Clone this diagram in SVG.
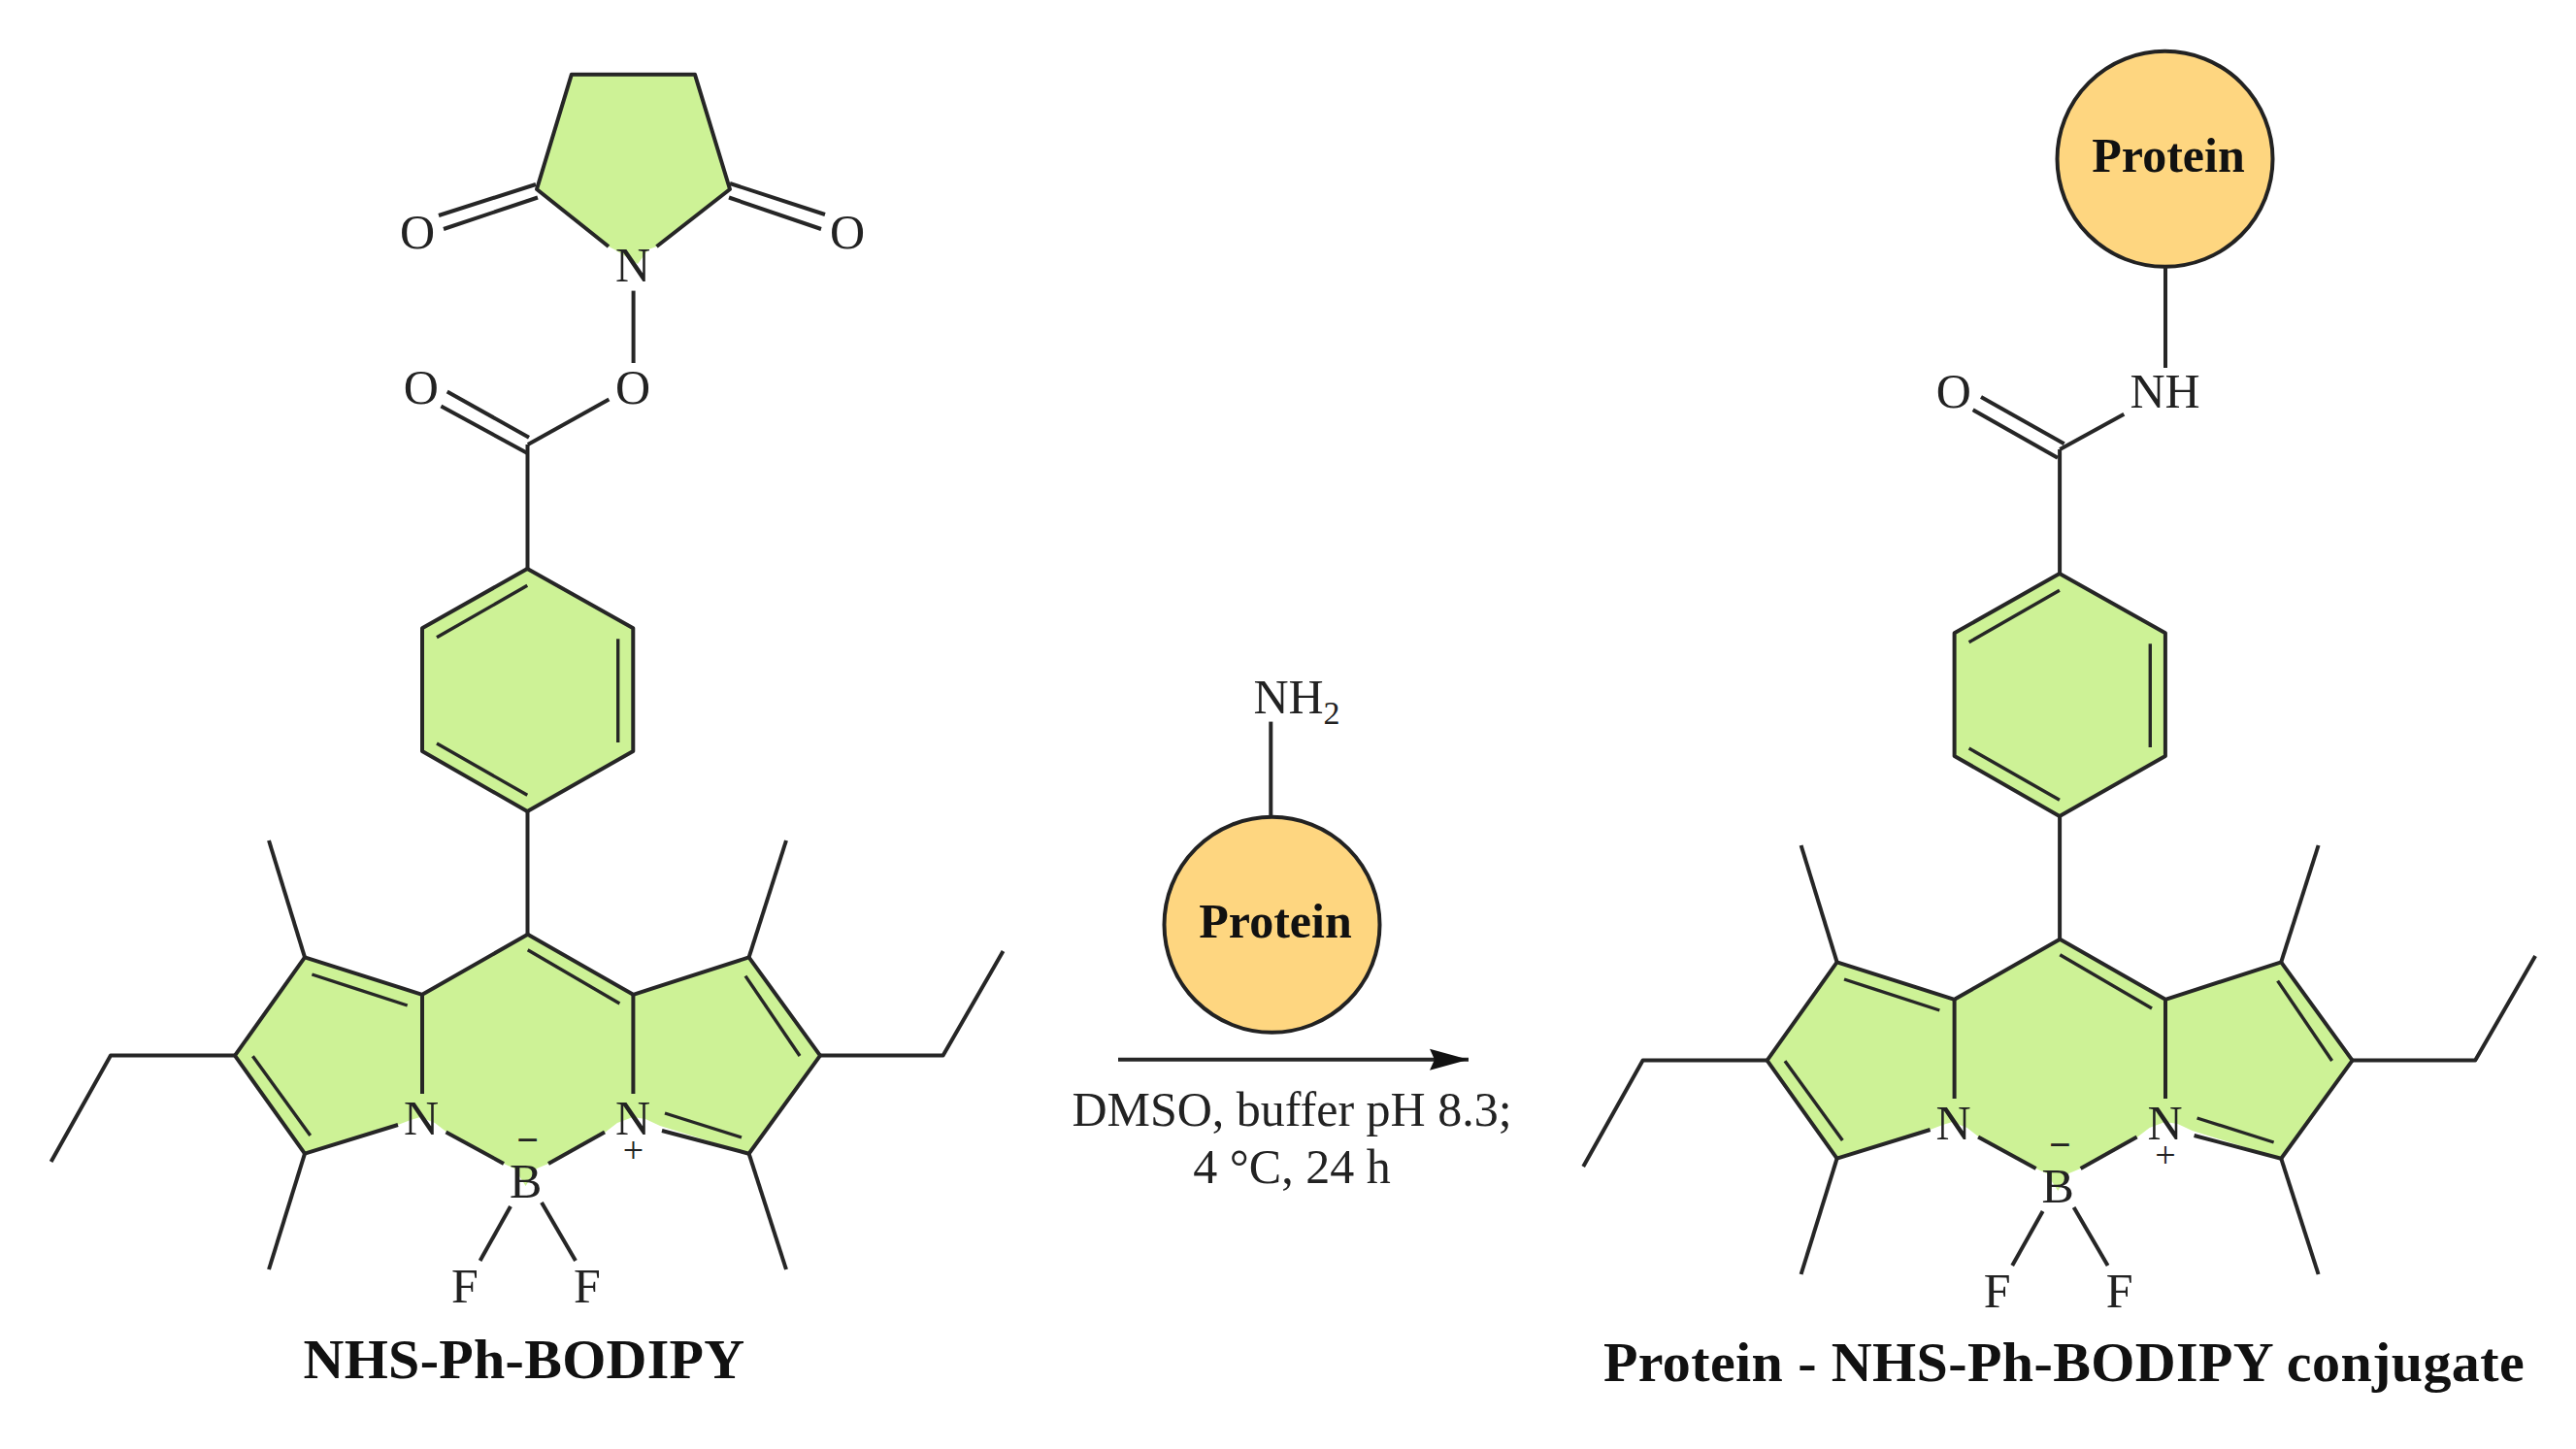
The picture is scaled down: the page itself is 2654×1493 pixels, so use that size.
<svg xmlns="http://www.w3.org/2000/svg" width="2654" height="1493" viewBox="0 0 2654 1493">
<style>
text{font-family:"Liberation Serif","Times New Roman",serif;fill:#222}
.a{font-size:50px;text-anchor:middle}
.c{font-size:38px;text-anchor:middle}
.m{font-size:40px;font-weight:700;text-anchor:middle}
.b{font-size:50px;font-weight:700;text-anchor:middle;fill:#111}
.t{font-size:58px;font-weight:700;text-anchor:middle;fill:#111}
.g{fill:#cdf296;stroke:none}
.o{fill:#fed680;stroke:#222;stroke-width:4}
.l,line,polyline{stroke:#262626;stroke-width:4;fill:none;stroke-linejoin:round}
.th{stroke-width:3.4}
</style>
<defs>
<marker id="head" markerUnits="userSpaceOnUse" markerWidth="44" markerHeight="26" refX="40" refY="12" orient="auto">
<path d="M0 1L40 12L0 23L5 12Z" fill="#111"/>
</marker>
</defs>
<rect width="2654" height="1493" fill="#fff"/>

<g id="succinimide">
<polygon class="g" points="553,195 588.8,77 716,77 752,195 676.5,254 668,257 657,272 633,257 627,254"/>
<polyline points="627,254 553,195 588.8,76.8 716,76.8 752,195 676.5,254"/>
<text class="a" x="652" y="290">N</text>
</g>

<g id="phenyl-left">
<polygon class="g" points="543.3,586 652.3,647.3 652.3,774 543.3,836 435,774 435,647.3"/>
<polygon class="l" points="543.3,586 652.3,647.3 652.3,774 543.3,836 435,774 435,647.3"/>
<line class="th" x1="450" y1="656.7" x2="543.3" y2="603.3"/>
<line class="th" x1="636.7" y1="658.3" x2="636.7" y2="765"/>
<line class="th" x1="450" y1="766" x2="543.3" y2="819.3"/>
</g>

<g id="bodipy-left">
<polygon class="g" points="435,1024.8 314,986.4 242,1087.6 314,1188.7 410,1159 423,1154 433,1151 448,1157 461,1167 519,1199 530,1204 541.6,1222 553,1204 565,1199 623,1167 636,1157 652,1151 665,1153 680,1160 771.6,1188.7 845,1087.6 771.6,986.4 652.4,1024.8 543.7,962.7"/>
<polyline points="410,1159 314,1188.7 242,1087.6 314,986.4 435,1024.8 543.7,962.7 652.4,1024.8 771.6,986.4 845,1087.6 771.6,1188.7 682,1165"/>
<line x1="435" y1="1024.8" x2="435" y2="1127"/>
<line x1="652.4" y1="1024.8" x2="652.4" y2="1127"/>
<line x1="459.5" y1="1166.5" x2="519" y2="1199"/>
<line x1="623" y1="1166.5" x2="565" y2="1199"/>
<line class="th" x1="321.4" y1="1004" x2="419.7" y2="1036"/>
<line class="th" x1="260.4" y1="1088.3" x2="319.7" y2="1170"/>
<line class="th" x1="543.7" y1="978.8" x2="638.4" y2="1034"/>
<line class="th" x1="768" y1="1005.6" x2="824" y2="1088"/>
<line class="th" x1="685" y1="1147" x2="764" y2="1172"/>
<text class="a" x="434" y="1169">N</text>
<text class="a" x="652" y="1169">N</text>
<text class="a" x="541.6" y="1234">B</text>
<text class="m" x="543.7" y="1188">−</text>
<text class="c" x="652.4" y="1198">+</text>
<text class="a" x="479" y="1342">F</text>
<text class="a" x="605" y="1342">F</text>
</g>

<g id="labels-left">
<text class="a" x="430" y="256">O</text>
<text class="a" x="873" y="256">O</text>
<text class="a" x="652" y="416">O</text>
<text class="a" x="433.7" y="416">O</text>
<text class="t" x="540" y="1420" letter-spacing="0.3">NHS-Ph-BODIPY</text>
</g>

<g id="protein-reagent">
<circle class="o" cx="1310.5" cy="952.8" r="111"/>
<text class="b" x="1314" y="966">Protein</text>
<text class="a" x="1336" y="735">NH<tspan font-size="34" dy="11">2</tspan></text>
</g>

<g id="conditions">
<text class="a" x="1331" y="1160">DMSO, buffer pH 8.3;</text>
<text class="a" x="1331" y="1218.5">4 °C, 24 h</text>
</g>

<g id="phenyl-right" transform="translate(1578.6 5)">
<polygon class="g" points="543.3,586 652.3,647.3 652.3,774 543.3,836 435,774 435,647.3"/>
<polygon class="l" points="543.3,586 652.3,647.3 652.3,774 543.3,836 435,774 435,647.3"/>
<line class="th" x1="450" y1="656.7" x2="543.3" y2="603.3"/>
<line class="th" x1="636.7" y1="658.3" x2="636.7" y2="765"/>
<line class="th" x1="450" y1="766" x2="543.3" y2="819.3"/>
</g>

<g id="bodipy-right" transform="translate(1578.6 5)">
<polygon class="g" points="435,1024.8 314,986.4 242,1087.6 314,1188.7 410,1159 423,1154 433,1151 448,1157 461,1167 519,1199 530,1204 541.6,1222 553,1204 565,1199 623,1167 636,1157 652,1151 665,1153 680,1160 771.6,1188.7 845,1087.6 771.6,986.4 652.4,1024.8 543.7,962.7"/>
<polyline points="410,1159 314,1188.7 242,1087.6 314,986.4 435,1024.8 543.7,962.7 652.4,1024.8 771.6,986.4 845,1087.6 771.6,1188.7 682,1165"/>
<line x1="435" y1="1024.8" x2="435" y2="1127"/>
<line x1="652.4" y1="1024.8" x2="652.4" y2="1127"/>
<line x1="459.5" y1="1166.5" x2="519" y2="1199"/>
<line x1="623" y1="1166.5" x2="565" y2="1199"/>
<line class="th" x1="321.4" y1="1004" x2="419.7" y2="1036"/>
<line class="th" x1="260.4" y1="1088.3" x2="319.7" y2="1170"/>
<line class="th" x1="543.7" y1="978.8" x2="638.4" y2="1034"/>
<line class="th" x1="768" y1="1005.6" x2="824" y2="1088"/>
<line class="th" x1="685" y1="1147" x2="764" y2="1172"/>
<text class="a" x="434" y="1169">N</text>
<text class="a" x="652" y="1169">N</text>
<text class="a" x="541.6" y="1234">B</text>
<text class="m" x="543.7" y="1188">−</text>
<text class="c" x="652.4" y="1198">+</text>
<text class="a" x="479" y="1342">F</text>
<text class="a" x="605" y="1342">F</text>
</g>

<g id="protein-conjugated">
<circle class="o" cx="2230.5" cy="163.8" r="111"/>
<text class="b" x="2234" y="177">Protein</text>
<text class="a" x="2230.5" y="420">NH</text>
<text class="a" x="2012.7" y="420">O</text>
<text class="t" x="2126.5" y="1423" letter-spacing="0.4">Protein - NHS-Ph-BODIPY conjugate</text>
</g>

<g id="connectors">
<line x1="452" y1="222" x2="552" y2="190"/>
<line x1="457" y1="236" x2="554" y2="203.5"/>
<line x1="850" y1="221" x2="752" y2="189"/>
<line x1="846" y1="236" x2="751" y2="203.5"/>
<line x1="652.6" y1="299.6" x2="652.6" y2="374"/>
<line x1="627.4" y1="411.4" x2="543.9" y2="458"/>
<line x1="460.7" y1="403.6" x2="545" y2="450.7"/>
<line x1="454.4" y1="418.6" x2="543" y2="466.8"/>
<line x1="543.5" y1="458" x2="543.5" y2="586"/>
<line x1="543.5" y1="836" x2="543.5" y2="962.7"/>
<line x1="314" y1="986.4" x2="277" y2="866"/>
<line x1="771.6" y1="986.4" x2="810" y2="866"/>
<line x1="314" y1="1188.7" x2="277" y2="1308"/>
<line x1="771.6" y1="1188.7" x2="810" y2="1308"/>
<polyline points="242,1087.6 114,1087.6 52.6,1197"/>
<polyline points="845,1087.6 971.6,1087.6 1033.5,980"/>
<line x1="526" y1="1243" x2="494.6" y2="1299"/>
<line x1="558" y1="1239" x2="593" y2="1299"/>

<line x1="1309.3" y1="743.6" x2="1309.3" y2="841"/>
<line x1="1152" y1="1091.8" x2="1513" y2="1091.8" marker-end="url(#head)"/>

<line x1="2231" y1="275" x2="2231" y2="379"/>
<line x1="2188.3" y1="426.7" x2="2122.3" y2="463"/>
<line x1="2041" y1="409" x2="2126.7" y2="457.3"/>
<line x1="2032.7" y1="422.3" x2="2120" y2="471.7"/>
<line x1="2122.1" y1="463" x2="2122.1" y2="591"/>
<line x1="2122.1" y1="841" x2="2122.1" y2="967.7"/>
<line x1="1892.6" y1="991.4" x2="1855.6" y2="871"/>
<line x1="2350.2" y1="991.4" x2="2388.6" y2="871"/>
<line x1="1892.6" y1="1193.7" x2="1855.6" y2="1313"/>
<line x1="2350.2" y1="1193.7" x2="2388.6" y2="1313"/>
<polyline points="1820.6,1092.6 1692.6,1092.6 1631.2,1202"/>
<polyline points="2423.6,1092.6 2550.2,1092.6 2612.1,985"/>
<line x1="2104.6" y1="1248" x2="2073.2" y2="1304"/>
<line x1="2136.6" y1="1244" x2="2171.6" y2="1304"/>
</g>
</svg>
